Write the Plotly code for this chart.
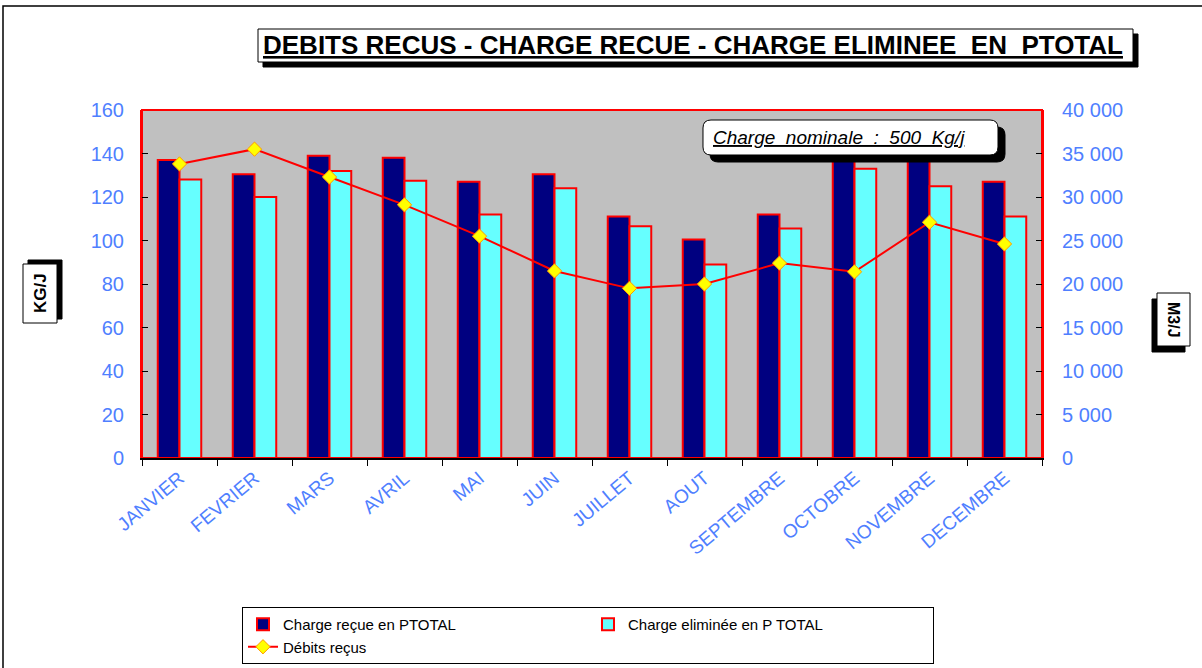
import plotly.graph_objects as go

months = ["JANVIER", "FEVRIER", "MARS", "AVRIL", "MAI", "JUIN", "JUILLET",
          "AOUT", "SEPTEMBRE", "OCTOBRE", "NOVEMBRE", "DECEMBRE"]
charge_recue = [137, 130.5, 139, 138, 127, 130.5, 111, 100.5, 112, 142, 140, 127]
charge_eliminee = [128, 120, 132, 127.5, 112, 124, 106.5, 89, 105.5, 133, 125, 111]
debits_recus = [33800, 35500, 32300, 29100, 25500, 21500, 19500, 20000, 22400, 21400, 27100, 24600]

W, H = 1202, 668
L, R, T, B = 142, 1042, 110, 458
PW, PH = R - L, B - T


def px(x):
    return (x - L) / PW


def py(y):
    return (B - y) / PH


def rect(x0, y0, x1, y1, fill, line="black", lw=1, layer="above"):
    return dict(type="rect", xref="paper", yref="paper",
                x0=px(x0), x1=px(x1), y0=py(y1), y1=py(y0),
                fillcolor=fill, line=dict(color=line, width=lw), layer=layer)


def rrect(x0, y0, x1, y1, r, fill, line="black", lw=1):
    def P(x, y):
        return f"{px(x):.5f},{py(y):.5f}"
    path = (f"M {P(x0 + r, y0)} L {P(x1 - r, y0)} Q {P(x1, y0)} {P(x1, y0 + r)} "
            f"L {P(x1, y1 - r)} Q {P(x1, y1)} {P(x1 - r, y1)} "
            f"L {P(x0 + r, y1)} Q {P(x0, y1)} {P(x0, y1 - r)} "
            f"L {P(x0, y0 + r)} Q {P(x0, y0)} {P(x0 + r, y0)} Z")
    return dict(type="path", xref="paper", yref="paper", path=path,
                fillcolor=fill, line=dict(color=line, width=lw), layer="above")


fig = go.Figure()
fig.add_trace(go.Bar(x=months, y=charge_recue, name="Charge reçue en PTOTAL",
                     marker=dict(color="#000080", line=dict(color="#FF0000", width=2))))
fig.add_trace(go.Bar(x=months, y=charge_eliminee, name="Charge eliminée en P TOTAL",
                     marker=dict(color="#66FFFF", line=dict(color="#FF0000", width=2))))
fig.add_trace(go.Scatter(x=months, y=debits_recus, name="Débits reçus", yaxis="y2",
                         mode="lines+markers",
                         line=dict(color="#FF0000", width=2),
                         marker=dict(symbol="diamond", size=11, color="#FFFF00",
                                     line=dict(color="#FF9900", width=1))))

FONT = "Liberation Sans, Arial"
tickfont = dict(family=FONT, size=20, color="#4F7FFF")

shapes = [
    # outer frame
    rect(3, 6, 1230, 700, "rgba(0,0,0,0)", "black", 1.5, "below"),
    # plot border
    rect(L, T, R, B, "rgba(0,0,0,0)", "#FF0000", 2, "below"),
    # title shadow + box
    rect(263, 34, 1138, 67, "black", "black", 1),
    rect(258, 29, 1133, 62, "white", "black", 1),
    # nominal charge box
    rrect(710, 127, 1005, 162, 8, "black"),
    rrect(703, 120, 998, 155, 8, "white"),
    # KG/J
    rect(28, 260, 62, 319, "black", "black", 1),
    rect(23, 264, 57, 323, "white", "black", 1),
    # M3/J
    rect(1152, 299, 1185, 352, "black", "black", 1),
    rect(1157, 293, 1190, 346, "white", "black", 1),
]


def ann(text, x, y, size, angle=0):
    return dict(text=text, textangle=angle, xref="paper", yref="paper",
                x=px(x), y=py(y), xanchor="center", yanchor="middle",
                showarrow=False, font=dict(family=FONT, size=size, color="black"))


annotations = [
    ann("<b><u>DEBITS RECUS - CHARGE RECUE - CHARGE ELIMINEE  EN  PTOTAL</u></b>", 693, 45, 26),
    ann("<i><u>Charge  nominale  :  500  Kg/j</u></i>", 839, 137, 19),
    ann("<b>KG/J</b>", 40, 293, 17, -90),
    ann("<b>M3/J</b>", 1174, 320, 16, 90),
]

fig.update_layout(
    width=W, height=H,
    margin=dict(l=L, r=W - R, t=T, b=H - B, autoexpand=False),
    paper_bgcolor="white", plot_bgcolor="#C0C0C0",
    barmode="group", bargap=0.42, bargroupgap=0,
    separators=", ",
    showlegend=True,
    legend=dict(orientation="h", x=px(242), y=py(607), xanchor="left", yanchor="top",
                bordercolor="black", borderwidth=1, bgcolor="white",
                entrywidth=300, entrywidthmode="pixels", traceorder="normal",
                font=dict(family=FONT, size=15, color="black"),
                tracegroupgap=0),
    xaxis=dict(range=[-0.5, 11.5], showgrid=False, showline=True, linecolor="black",
               linewidth=1.5, ticks="outside", tickson="boundaries", ticklen=6,
               tickcolor="black", tickangle=-40,
               tickfont=dict(family=FONT, size=19, color="#4F7FFF"),
               fixedrange=True),
    yaxis=dict(range=[0, 160], dtick=20, showgrid=False, zeroline=False,
               showline=True, linecolor="#FF0000", linewidth=2,
               ticks="inside", ticklen=6, tickcolor="black",
               tickfont=tickfont, ticklabelstandoff=12),
    yaxis2=dict(range=[0, 40000], dtick=5000, overlaying="y", side="right",
                showgrid=False, zeroline=False, showline=True, linecolor="#FF0000",
                linewidth=2, ticks="inside", ticklen=6, tickcolor="black",
                tickformat=",d", tickfont=tickfont, ticklabelstandoff=14),
    shapes=shapes,
    annotations=annotations,
)

fig.write_html("out.html", config={"displayModeBar": False},
               post_script="document.body.style.margin='0';")
